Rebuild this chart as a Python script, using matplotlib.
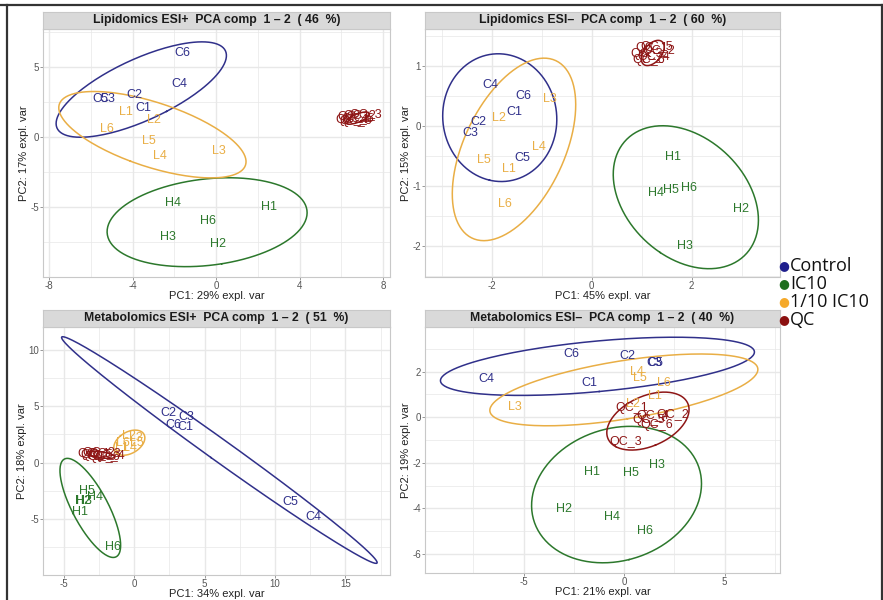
import numpy as np
import matplotlib
matplotlib.use("Agg")
import matplotlib.pyplot as plt
from matplotlib.ticker import FixedLocator

W, H = 883, 600
plt.rcParams["font.family"] = ["Liberation Sans", "DejaVu Sans"]

# ---- sample labels -------------------------------------------------------
ctrl_labels = ["C1", "C2", "C3", "C4", "C5", "C6"]
ic10_labels = ["H1", "H2", "H3", "H4", "H5", "H6"]
low_labels = ["L1", "L2", "L3", "L4", "L5", "L6"]
qc_labels = ["QC_1", "QC_2", "QC_3", "QC_4", "QC_5", "QC_6"]

# ---- Lipidomics ESI+ scores (PC1, PC2) -----------------------------------
lp_ctrl_pc1 = [-3.5, -3.9, -5.2, -1.75, -5.55, -1.6]
lp_ctrl_pc2 = [2.07, 2.96, 2.72, 3.77, 2.72, 5.97]
lp_ic10_labels = ["H1", "H2", "H3", "H4", "H6"]
lp_ic10_pc1 = [2.55, 0.07, -2.3, -2.07, -0.4]
lp_ic10_pc2 = [-4.97, -7.66, -7.1, -4.7, -5.96]
lp_low_pc1 = [-4.3, -3.0, 0.15, -2.7, -3.2, -5.25]
lp_low_pc2 = [1.8, 1.22, -1.03, -1.35, -0.3, 0.58]
lp_qc_pc1 = [6.6, 6.9, 7.15, 6.5, 6.8, 6.7]
lp_qc_pc2 = [1.4, 1.5, 1.55, 1.2, 1.25, 1.1]

# ---- Lipidomics ESI- scores ------------------------------------------------
ln_ctrl_pc1 = [-1.55, -2.26, -2.43, -2.03, -1.38, -1.36]
ln_ctrl_pc2 = [0.24, 0.06, -0.11, 0.68, -0.53, 0.5]
ln_ic10_pc1 = [1.62, 3.0, 1.87, 1.29, 1.59, 1.95]
ln_ic10_pc2 = [-0.52, -1.39, -2.0, -1.11, -1.07, -1.04]
ln_low_pc1 = [-1.66, -1.86, -0.83, -1.06, -2.16, -1.73]
ln_low_pc2 = [-0.71, 0.13, 0.45, -0.35, -0.56, -1.3]
ln_qc_pc1 = [1.2, 1.35, 1.1, 1.25, 1.3, 1.15]
ln_qc_pc2 = [1.3, 1.25, 1.2, 1.15, 1.32, 1.1]

# ---- Metabolomics ESI+ scores ----------------------------------------------
mp_ctrl_pc1 = [3.6, 2.41, 3.72, 12.7, 11.06, 2.77]
mp_ctrl_pc2 = [3.19, 4.37, 4.02, -4.78, -3.45, 3.34]
mp_ic10_pc1 = [-3.86, -3.65, -3.6, -2.79, -3.34, -1.49]
mp_ic10_pc2 = [-4.39, -3.35, -3.38, -3.0, -2.48, -7.43]
mp_low_pc1 = [-0.9, -0.4, 0.1, -0.3, 0.2, -0.8]
mp_low_pc2 = [1.3, 2.4, 2.2, 1.3, 1.7, 1.7]
mp_qc_pc1 = [-2.9, -2.5, -2.1, -1.8, -2.7, -2.2]
mp_qc_pc2 = [0.8, 0.85, 0.75, 0.6, 0.7, 0.5]

# ---- Metabolomics ESI- scores ----------------------------------------------
mn_ctrl_pc1 = [-1.71, 0.17, 1.5, -6.85, 1.55, -2.62]
mn_ctrl_pc2 = [1.52, 2.69, 2.38, 1.68, 2.36, 2.78]
mn_ic10_pc1 = [-1.62, -3.0, 1.61, -0.6, 0.32, 1.03]
mn_ic10_pc2 = [-2.39, -4.04, -2.09, -4.39, -2.46, -4.97]
mn_low_pc1 = [1.53, 0.45, -5.44, 0.62, 0.78, 1.98]
mn_low_pc2 = [0.93, 0.58, 0.44, 2.0, 1.74, 1.52]
mn_qc_pc1 = [0.4, 2.4, 0.1, 1.4, 1.2, 1.6]
mn_qc_pc2 = [0.4, 0.1, -1.1, 0.05, -0.1, -0.35]

group_names = ["Control", "IC10", "1/10 IC10", "QC"]
group_colors = ["#30308A", "#2C782C", "#E9AE45", "#8E1616"]
legend_colors = ["#1E1E8C", "#1E6E1E", "#F5A92A", "#8B1010"]

panels = [
    dict(title="Lipidomics ESI+  PCA comp  1 \u2013 2  ( 46  %)",
         xlabel="PC1: 29% expl. var", ylabel="PC2: 17% expl. var",
         groups=[(ctrl_labels, lp_ctrl_pc1, lp_ctrl_pc2),
                 (lp_ic10_labels, lp_ic10_pc1, lp_ic10_pc2),
                 (low_labels, lp_low_pc1, lp_low_pc2),
                 (qc_labels, lp_qc_pc1, lp_qc_pc2)],
         xlim=(-8.29, 8.33), ylim=(-9.98, 7.68),
         xticks=[-8, -4, 0, 4, 8], yticks=[-5, 0, 5],
         box=(43, 29, 390, 277)),
    dict(title="Lipidomics ESI\u2013  PCA comp  1 \u2013 2  ( 60  %)",
         xlabel="PC1: 45% expl. var", ylabel="PC2: 15% expl. var",
         groups=[(ctrl_labels, ln_ctrl_pc1, ln_ctrl_pc2),
                 (ic10_labels, ln_ic10_pc1, ln_ic10_pc2),
                 (low_labels, ln_low_pc1, ln_low_pc2),
                 (qc_labels, ln_qc_pc1, ln_qc_pc2)],
         xlim=(-3.33, 3.77), ylim=(-2.52, 1.62),
         xticks=[-2, 0, 2], yticks=[-2, -1, 0, 1],
         box=(425, 29, 780, 277)),
    dict(title="Metabolomics ESI+  PCA comp  1 \u2013 2  ( 51  %)",
         xlabel="PC1: 34% expl. var", ylabel="PC2: 18% expl. var",
         groups=[(ctrl_labels, mp_ctrl_pc1, mp_ctrl_pc2),
                 (ic10_labels, mp_ic10_pc1, mp_ic10_pc2),
                 (low_labels, mp_low_pc1, mp_low_pc2),
                 (qc_labels, mp_qc_pc1, mp_qc_pc2)],
         xlim=(-6.48, 18.16), ylim=(-9.94, 12.0),
         xticks=[-5, 0, 5, 10, 15], yticks=[-5, 0, 5, 10],
         box=(43, 327, 390, 575)),
    dict(title="Metabolomics ESI\u2013  PCA comp  1 \u2013 2  ( 40  %)",
         xlabel="PC1: 21% expl. var", ylabel="PC2: 19% expl. var",
         groups=[(ctrl_labels, mn_ctrl_pc1, mn_ctrl_pc2),
                 (ic10_labels, mn_ic10_pc1, mn_ic10_pc2),
                 (low_labels, mn_low_pc1, mn_low_pc2),
                 (qc_labels, mn_qc_pc1, mn_qc_pc2)],
         xlim=(-9.9, 7.75), ylim=(-6.83, 3.96),
         xticks=[-5, 0, 5], yticks=[-6, -4, -2, 0, 2],
         box=(425, 327, 780, 573)),
]


def px_axes(fig, x0, y0, x1, y1):
    return fig.add_axes([x0 / W, 1 - y1 / H, (x1 - x0) / W, (y1 - y0) / H])


def conf_ellipse(x, y, level=0.95, n=200):
    """95% confidence ellipse of a group of score points."""
    pts = np.column_stack([x, y])
    centre = pts.mean(axis=0)
    cov = np.cov(pts, rowvar=False)
    t = np.sqrt(-2.0 * np.log(1.0 - level))
    vals, vecs = np.linalg.eigh(cov)
    vals = np.clip(vals, 0, None)
    theta = np.linspace(0, 2 * np.pi, n)
    circ = np.vstack([np.cos(theta), np.sin(theta)])
    ell = vecs @ (np.sqrt(vals)[:, None] * circ) * t
    return centre[0] + ell[0], centre[1] + ell[1]


fig = plt.figure(figsize=(W / 100, H / 100), dpi=100)

grid_col = "#E8E8E8"
for p in panels:
    x0, y0, x1, y1 = p["box"]
    ax = px_axes(fig, x0, y0, x1, y1)
    ax.set_xlim(*p["xlim"])
    ax.set_ylim(*p["ylim"])
    ax.set_facecolor("white")
    xt, yt = p["xticks"], p["yticks"]
    dx, dy = xt[1] - xt[0], yt[1] - yt[0]
    ax.xaxis.set_major_locator(FixedLocator(xt))
    ax.yaxis.set_major_locator(FixedLocator(yt))
    xm = np.arange(xt[0] - dx / 2, xt[-1] + dx, dx)
    ym = np.arange(yt[0] - dy / 2, yt[-1] + dy, dy)
    for v in xm:
        ax.axvline(v, color=grid_col, lw=0.5, zorder=0)
    for v in ym:
        ax.axhline(v, color=grid_col, lw=0.5, zorder=0)
    for v in xt:
        ax.axvline(v, color=grid_col, lw=1.0, zorder=0)
    for v in yt:
        ax.axhline(v, color=grid_col, lw=1.0, zorder=0)
    ax.set_xticklabels([f"{v:g}" for v in xt])
    ax.set_yticklabels([f"{v:g}" for v in yt])
    ax.tick_params(length=2.0, width=0.6, color="#888888", labelsize=7,
                   labelcolor="#555555", pad=1)
    for s in ax.spines.values():
        s.set_color("#C8C8C8")
        s.set_linewidth(0.8)
    ax.set_xlabel(p["xlabel"], fontsize=8, color="#222222", labelpad=0)
    ax.set_ylabel(p["ylabel"], fontsize=8, color="#222222", labelpad=1)

    for (labels, xs, ys), col in zip(p["groups"], group_colors):
        ex, ey = conf_ellipse(xs, ys)
        ax.plot(ex, ey, color=col, lw=1.1, zorder=2)
        for lab, xv, yv in zip(labels, xs, ys):
            ax.text(xv, yv, lab, color=col, fontsize=9, ha="center",
                    va="center", zorder=3)

    # facet strip
    sax = px_axes(fig, x0, y0 - 17, x1, y0)
    sax.set_facecolor("#D9D9D9")
    sax.set_xticks([])
    sax.set_yticks([])
    for s in sax.spines.values():
        s.set_color("#C8C8C8")
        s.set_linewidth(0.8)
    sax.text(0.5, 0.5, p["title"], ha="center", va="center",
             fontsize=8.8, fontweight="bold", color="#1A1A1A",
             transform=sax.transAxes)

# legend at the right margin
leg_y = [266, 284, 302, 320]
for name, col, yy in zip(group_names, legend_colors, leg_y):
    fig.text(784 / W, 1 - yy / H, "\u25CF", color=col, fontsize=9,
             ha="center", va="center", family="DejaVu Sans")
    fig.text(790 / W, 1 - yy / H, name, color="#111111", fontsize=13,
             ha="left", va="center", family="Open Sans")

# outer frame lines
fig.add_artist(plt.Line2D([0, 1], [1 - 4.5 / H] * 2, color="#333333", lw=1.6,
                          transform=fig.transFigure))
fig.add_artist(plt.Line2D([6.5 / W] * 2, [0, 1 - 4.5 / H], color="#333333",
                          lw=1.6, transform=fig.transFigure))
fig.add_artist(plt.Line2D([881.5 / W] * 2, [0, 1 - 4.5 / H], color="#333333",
                          lw=1.6, transform=fig.transFigure))

fig.savefig("out.png", dpi=100, facecolor="white")
